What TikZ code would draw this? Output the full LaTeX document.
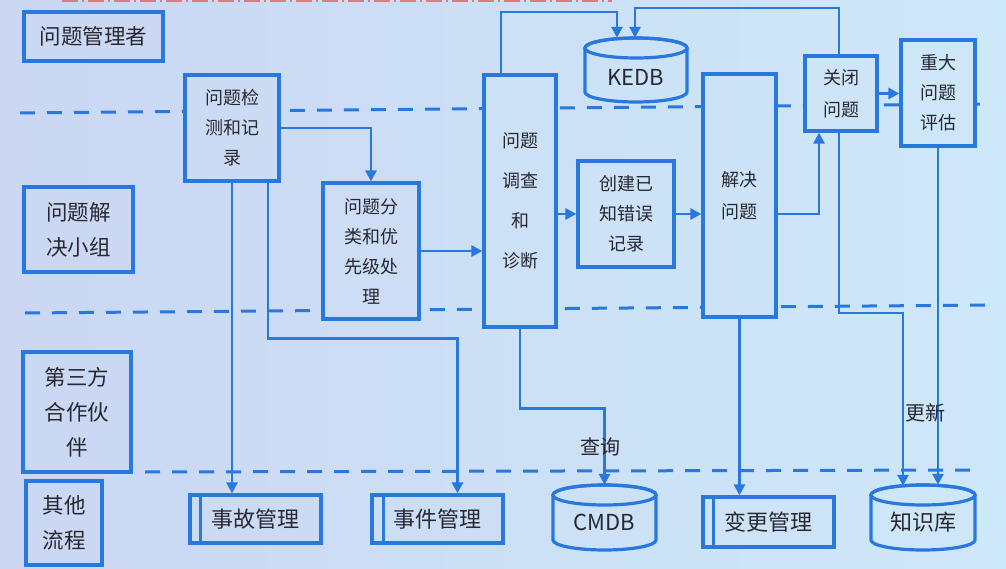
\documentclass[tikz,border=0pt]{standalone}
\usepackage{fontspec}
\newfontfamily\cjk{Noto Sans CJK SC}
\usetikzlibrary{arrows.meta}
\definecolor{bgL}{RGB}{203,215,243}
\definecolor{bgR}{RGB}{205,232,248}
\definecolor{ln}{RGB}{40,120,222}
\definecolor{tx}{RGB}{40,40,50}
\definecolor{rd}{RGB}{225,120,130}
\begin{document}
\begin{tikzpicture}[x=1pt,y=-1pt,
  box/.style={draw=ln, line width=3.2pt, inner sep=0pt, text=tx, align=center},
  fb/.style={fill=bgR!#1!bgL},
  pbox/.style={box, font=\cjk\fontsize{18}{30}\selectfont},
  lbox/.style={box, font=\cjk\fontsize{21.5}{35}\selectfont},
  sbox/.style={box, font=\cjk\fontsize{22}{26}\selectfont},
  dbtext/.style={inner sep=0pt, text=tx, font=\cjk\fontsize{22}{26}\selectfont},
  lane/.style={ln, line width=3pt, dash pattern=on 15pt off 12pt},
  arr/.style={ln, line width=2.8pt, -{Triangle[length=11pt,width=11pt]}},
  cyl/.style={draw=ln, line width=3.2pt},
  lab/.style={font=\cjk\fontsize{20}{24}\selectfont, text=tx, inner sep=0pt},
  sideline/.style={ln, line width=3.2pt},
]
\shade[left color=bgL, right color=bgR] (0,0) rectangle (1006,569);
\useasboundingbox (0,0) rectangle (1006,569);

% cut-off red line at the top
\draw[rd, line width=4pt, dash pattern=on 16pt off 4pt on 2pt off 4pt] (62,0) -- (612,0);

% swimlane separators
\draw[lane] (20,113) -- (985,104);
\draw[lane] (25,313) -- (990,305);
\draw[lane] (145,472) -- (978,470);

% lane labels
\node[lbox, fb=5, minimum width=139pt, minimum height=49pt] (l1) at (93.5,36.5) {问题管理者};
\node[lbox, fb=5, minimum width=109pt, minimum height=85pt] (l2) at (78.5,229.5) {问题解\\决小组};
\node[lbox, fb=5, minimum width=108pt, minimum height=120pt] (l3) at (77,412) {第三方\\合作伙\\伴};
\node[lbox, fb=5, minimum width=76pt, minimum height=84pt] (l4) at (64,523) {其他\\流程};

% process steps
\node[pbox, fb=23, minimum width=94pt, minimum height=106pt] (detect) at (232,128) {问题检\\测和记\\录};
\node[pbox, fb=37, minimum width=96pt, minimum height=136pt] (classify) at (371,251) {问题分\\类和优\\先级处\\理};
\node[pbox, fb=52, minimum width=72pt, minimum height=252pt, font=\cjk\fontsize{18}{40}\selectfont] (investigate) at (520,201) {问题\\调查\\和\\诊断};
\node[pbox, fb=62, minimum width=96pt, minimum height=106pt] (create) at (626,214) {创建已\\知错误\\记录};
\node[pbox, fb=73, minimum width=73pt, minimum height=243pt, font=\cjk\fontsize{18}{32}\selectfont] (resolve) at (739.5,195.5) {解决\\问题};
\node[pbox, fb=84, minimum width=72pt, minimum height=75pt, font=\cjk\fontsize{18}{32}\selectfont] (close) at (841,93.5) {关闭\\问题};
\node[pbox, fb=93, minimum width=74pt, minimum height=106pt] (major) at (938,93) {重大\\问题\\评估};

% KEDB cylinder
\filldraw[cyl, fill=bgR!62!bgL] (585,48) -- (585,92) arc[start angle=180,end angle=360,x radius=51pt,y radius=10pt] -- (687,48) arc[start angle=0,end angle=180,x radius=51pt,y radius=10pt] -- cycle;
\draw[cyl] (636,48) ellipse [x radius=51pt, y radius=10pt];
\node[dbtext, minimum width=102pt, minimum height=78pt] (kedb) at (636,77) {KEDB};

% other processes
\node[sbox, fb=25, minimum width=131pt, minimum height=48pt] (incident) at (255.5,519) {事故管理};
\draw[sideline] ([xshift=12pt]incident.north west) -- ([xshift=12pt]incident.south west);
\node[sbox, fb=43, minimum width=131pt, minimum height=48pt] (event) at (437.5,519) {事件管理};
\draw[sideline] ([xshift=13pt]event.north west) -- ([xshift=13pt]event.south west);
\node[sbox, fb=76, minimum width=131pt, minimum height=50pt] (change) at (768.5,522) {变更管理};
\draw[sideline] ([xshift=12pt]change.north west) -- ([xshift=12pt]change.south west);

% CMDB cylinder
\filldraw[cyl, fill=bgR!60!bgL] (553,495) -- (553,540) arc[start angle=180,end angle=360,x radius=51.5pt,y radius=10pt] -- (656,495) arc[start angle=0,end angle=180,x radius=51.5pt,y radius=10pt] -- cycle;
\draw[cyl] (604.5,495) ellipse [x radius=51.5pt, y radius=10pt];
\node[dbtext, minimum width=103pt, minimum height=74pt] (cmdb) at (604.5,522) {CMDB};

% knowledge base cylinder
\filldraw[cyl, fill=bgR!92!bgL] (871,495) -- (871,540) arc[start angle=180,end angle=360,x radius=52pt,y radius=10pt] -- (975,495) arc[start angle=0,end angle=180,x radius=52pt,y radius=10pt] -- cycle;
\draw[cyl] (923,495) ellipse [x radius=52pt, y radius=10pt];
\node[dbtext, minimum width=104pt, minimum height=74pt] (kb) at (923,522) {知识库};

% helper coordinates for bends
\coordinate (k1) at (617,12);
\coordinate (k2) at (635,8);
\coordinate (k3) at (903,313);

% connectors
\draw[arr] (detect.east) -| (classify.north);
\draw[arr] (detect.south) -- (detect.south |- incident.north);
\draw[arr] ([xshift=36pt]detect.south) -- ++(0,156) -| ([xshift=20pt]event.north);
\draw[arr] (classify.east) -- (classify.east -| investigate.west);
\draw[arr] ([xshift=-19pt]investigate.north) |- (k1) -- (k1 |- kedb.north);
\draw[arr] ([xshift=-2pt]close.north) |- (k2) -- (k2 |- kedb.north);
\draw[arr] (investigate.east |- create.west) -- (create.west);
\draw[arr] (create.east) -- (create.east -| resolve.west);
\draw[arr] (resolve.east |- create.east) -| ([xshift=-22pt]close.south);
\draw[arr] (close.east) -- (close.east -| major.west);
\draw[arr] (investigate.south) -- ++(0,80) -| (cmdb.north);
\draw[arr] (resolve.south) -- (resolve.south |- change.north);
\draw[arr] ([xshift=-2pt]close.south) |- (k3) -- ([yshift=-1pt]k3 |- kb.north);
\draw[arr] (major.south) -- (major.south |- kb.north);

% connector labels
\node[lab] (q) at (600,447) {查询};
\node[lab] (u) at (925,413) {更新};
\end{tikzpicture}
\end{document}
